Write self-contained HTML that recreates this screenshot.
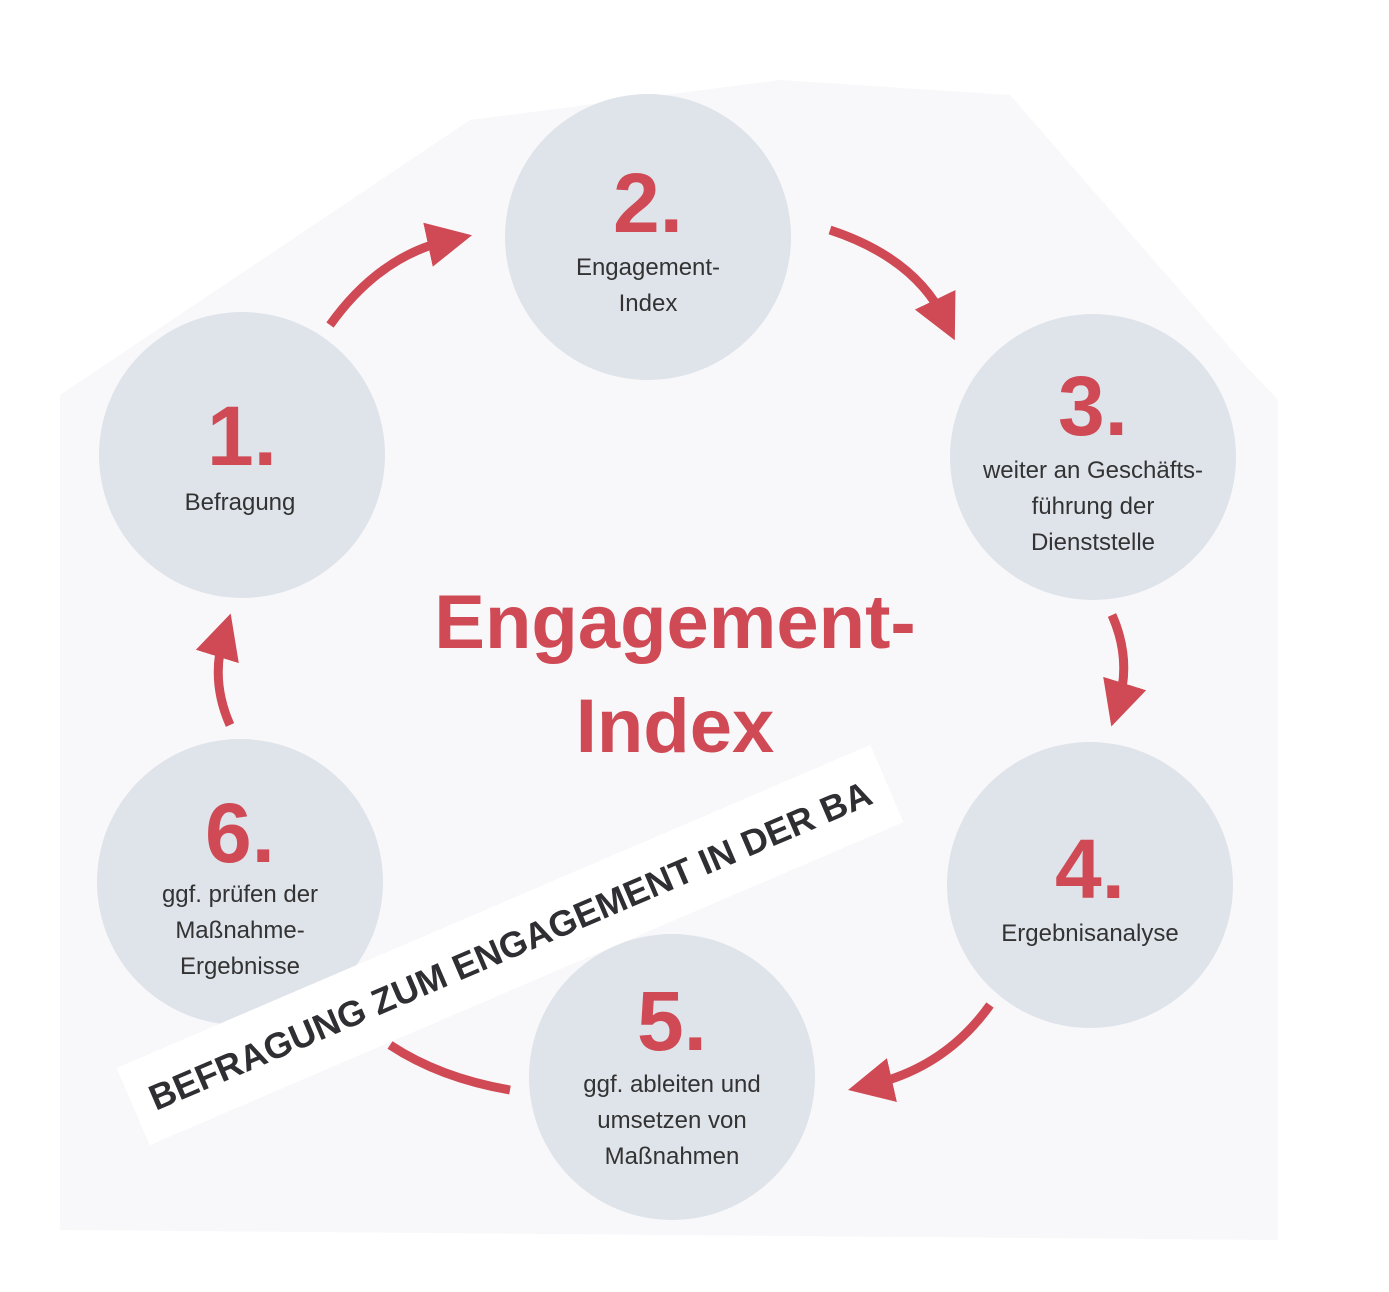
<!DOCTYPE html>
<html><head><meta charset="utf-8"><style>
html,body{margin:0;padding:0;background:#fff;}
svg{display:block;}
</style></head><body>
<svg width="1389" height="1292" viewBox="0 0 1389 1292" xmlns="http://www.w3.org/2000/svg" font-family="Liberation Sans, sans-serif">
<defs>
<marker id="ah" viewBox="0 0 10 10" refX="5" refY="5" markerWidth="5" markerHeight="5" orient="auto">
<path d="M0,0 L10,5 L0,10 Z" fill="#cf4a55"/>
</marker>
</defs>
<polygon points="60,395 470,120 780,80 1010,95 1245,365 1278,400 1278,1240 60,1230" fill="#f8f8fa"/>
<g fill="#dfe3ea">
<circle cx="242" cy="455" r="143"/>
<circle cx="648" cy="237" r="143"/>
<circle cx="1093" cy="457" r="143"/>
<circle cx="1090" cy="885" r="143"/>
<circle cx="672" cy="1077" r="143"/>
<circle cx="240" cy="882" r="143"/>
</g>
<g fill="none" stroke="#cf4a55" stroke-width="9" stroke-linecap="butt">
<path d="M330,325 Q380,255 450,240" marker-end="url(#ah)"/>
<path d="M830,230 Q915,258 945,320" marker-end="url(#ah)"/>
<path d="M1112,615 Q1132,660 1118,705" marker-end="url(#ah)"/>
<path d="M990,1005 Q945,1068 870,1085" marker-end="url(#ah)"/>
<path d="M510,1090 Q440,1078 390,1045"/>
<path d="M230,725 Q210,680 224,635" marker-end="url(#ah)"/>
</g>
<g fill="#cf4a55" font-weight="bold" text-anchor="middle" font-size="84">
<text x="242" y="465">1.</text>
<text x="648" y="232">2.</text>
<text x="1093" y="435">3.</text>
<text x="1090" y="898">4.</text>
<text x="672" y="1050">5.</text>
<text x="240" y="862">6.</text>
<text x="675" y="648" font-size="76">Engagement-</text>
<text x="675" y="752" font-size="76">Index</text>
</g>
<g fill="#333" font-size="24" text-anchor="middle">
<text x="240" y="510">Befragung</text>
<text x="648" y="275">Engagement-</text>
<text x="648" y="311">Index</text>
<text x="1093" y="478">weiter an Geschäfts-</text>
<text x="1093" y="514">führung der</text>
<text x="1093" y="550">Dienststelle</text>
<text x="1090" y="941">Ergebnisanalyse</text>
<text x="672" y="1092">ggf. ableiten und</text>
<text x="672" y="1128">umsetzen von</text>
<text x="672" y="1164">Maßnahmen</text>
<text x="240" y="902">ggf. prüfen der</text>
<text x="240" y="938">Maßnahme-</text>
<text x="240" y="974">Ergebnisse</text>
</g>
<g transform="translate(510,945) rotate(-23.2)">
<rect x="-410" y="-42" width="820" height="84" fill="#fff"/>
<text x="0" y="13" text-anchor="middle" font-size="36" font-weight="bold" fill="#2f2f33">BEFRAGUNG ZUM ENGAGEMENT IN DER BA</text>
</g>
</svg>
</body></html>
